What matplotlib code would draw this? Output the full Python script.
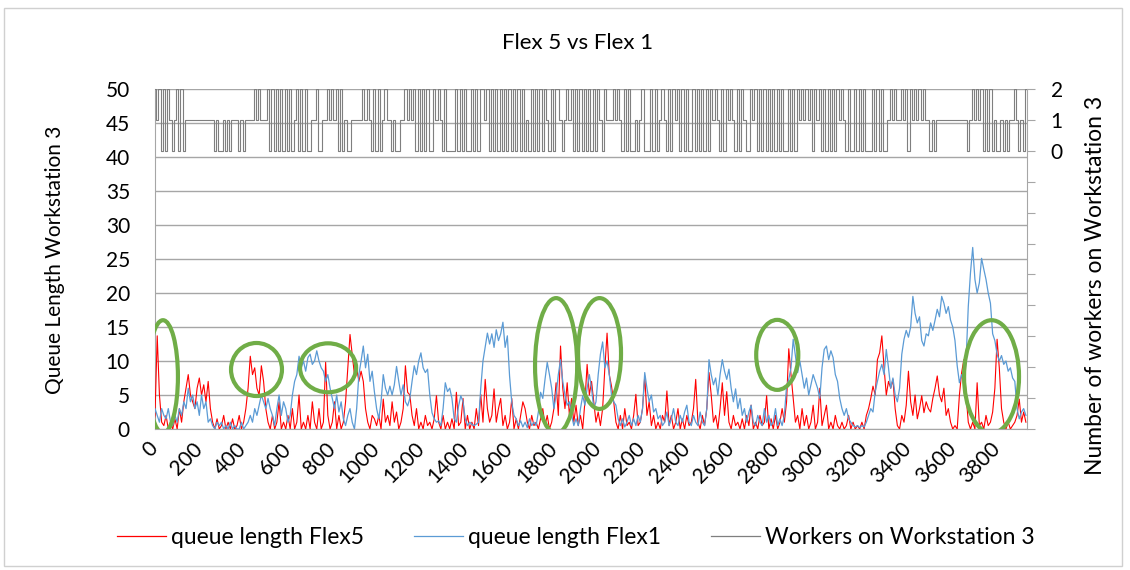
import matplotlib
matplotlib.use("Agg")
import matplotlib.pyplot as plt
from matplotlib.patches import Ellipse, Rectangle
from matplotlib.lines import Line2D
import numpy as np

plt.rcParams['font.family'] = ['Lato', 'DejaVu Sans']

# sampled every 10 time steps, first sample just left of the axis
T0 = -10
STEP = 10

queue_flex5 = [
    0, 2, 13.7, 5, 1, 0.5, 2, 0, 1, 0,
    1.5, 0, 3, 1, 4, 6, 8, 5, 4, 3,
    6, 7.5, 5, 6.5, 4, 7, 3, 1, 0, 1.5,
    0, 0.5, 2, 0, 1, 0, 1.5, 0, 0.5, 2,
    0, 1, 3, 6, 10.7, 8, 9, 6, 5, 9.3,
    7, 3, 1, 0, 2, 0, 1, 4, 0, 1,
    0, 2, 0, 3, 0, 1, 5, 0, 1, 0,
    2, 0, 4, 1, 0, 3, 0, 1, 9.8, 2,
    0, 1, 4, 0, 2, 0, 1, 4, 9, 13.9,
    11, 8, 9, 7, 8.5, 7, 3, 1, 0, 2,
    1.5, 0.5, 2, 0, 4.4, 1, 2, 0.5, 4, 1,
    2.5, 0, 1, 3, 9.3, 5.4, 5, 2, 0.5, 3,
    0, 1, 0, 2, 0.5, 1, 0, 1.5, 4.9, 1,
    0, 2, 0, 1, 0, 1.5, 0, 5.4, 0.5, 1,
    4.5, 0, 2, 0, 1, 0, 3, 0.5, 5.1, 1,
    7.3, 3, 1, 2, 5.9, 1, 3, 4.5, 0.5, 2,
    0, 1, 4.5, 0, 1.5, 0, 2, 4, 3, 1,
    0, 2, 0.5, 1, 0, 1.5, 3, 0.5, 2, 0,
    1, 3, 6.8, 2, 12.2, 6, 3, 6.8, 2, 4.5,
    1, 3.5, 0.5, 2, 0, 4, 9.5, 5, 7, 4,
    1, 2.5, 0.5, 3, 9, 14.1, 8, 6.3, 4, 1,
    0, 2, 0, 3, 0.5, 1, 0, 2, 5.1, 0.5,
    1, 3, 7.8, 2, 4, 0.5, 2, 0, 1, 0,
    2, 1, 5.6, 0.5, 2, 0, 1, 3, 0, 1.5,
    0, 2, 0.5, 1, 3, 7.3, 1, 0, 2, 0.5,
    3, 8.3, 5, 1, 2, 0, 3, 6.8, 2, 5.5,
    1, 0, 2, 0.5, 1, 0, 1.5, 0, 2, 0.5,
    3.5, 0, 1, 0, 2, 0.5, 1, 4.9, 0, 1.5,
    0, 2, 0, 1, 3, 1, 4, 11.8, 8, 4.5,
    1, 2, 0, 3, 0.5, 2, 0, 1, 3.5, 0,
    1, 6, 0.5, 2, 3.5, 0, 1, 0, 2, 0.5,
    0, 1, 0, 0.5, 2, 0, 1, 0, 0.5, 0,
    1, 0, 2, 3, 4.5, 6.3, 5, 10.2, 11.2, 13.7,
    9, 5, 7, 6, 7.3, 3, 0.5, 0, 2, 1,
    3.5, 8.5, 4, 2, 5, 1.5, 3, 4.9, 2.4, 4,
    3, 2.5, 4.5, 6, 7.8, 5, 4, 6, 2, 3,
    1, 0, 0.5, 0, 5, 8.3, 10.2, 5, 1, 0,
    1, 0, 6.8, 0.5, 1, 0, 2, 0.5, 1, 2.5,
    6, 13.2, 9, 3, 1, 0, 1, 0, 0.5, 1,
    2, 4.4, 1, 2.5, 1,
]

queue_flex1 = [
    0, 3, 2, 1, 3, 2, 1.5, 3, 1, 0.5,
    2, 1, 3, 2, 4, 3, 6, 4, 5, 3,
    4, 2, 5, 3, 4, 1, 1.5, 0.5, 0, 1,
    0.5, 1, 0, 0.5, 0, 1, 0, 0.5, 0, 0,
    1, 0, 0.5, 1, 2, 1, 3, 2, 3.5, 5,
    4, 3, 4.5, 3, 2, 0.5, 3, 5, 2, 4,
    3, 1, 2, 5, 7, 8, 10.7, 9, 10, 8.5,
    10.5, 11, 9.5, 10, 11.5, 10, 9, 8.5, 7, 8,
    6, 4.5, 3, 5, 2.5, 4, 1.5, 0.5, 2, 3,
    1, 0, 3, 8, 10, 12.2, 9, 11, 7, 8.5,
    5.5, 3, 1.5, 4, 8, 6, 5, 6.3, 5, 6.5,
    9.2, 7, 5, 6.5, 4, 3.4, 4.5, 7, 9.3, 8,
    10, 11.2, 9, 8.3, 8.8, 5, 2.4, 1.5, 1, 1.2,
    0.5, 3, 6.8, 5.5, 6, 4.5, 1.5, 1, 3.4, 4.9,
    4, 1.5, 0.5, 1, 0.7, 0.5, 0.7, 1, 6, 10,
    12, 14.1, 12.5, 14, 12, 14.6, 13, 14, 15.7, 12,
    13.7, 7.8, 3.9, 2, 1.5, 0.5, 1.2, 0.3, 1, 0.2,
    1.5, 0.5, 1, 0.5, 2.5, 5.4, 4.5, 7.3, 9.8, 8,
    6, 3, 5, 8, 10.2, 7, 5, 3.5, 4, 2,
    0.5, 1.5, 0.5, 3, 4.9, 3.5, 6, 8, 6, 3,
    4, 8, 11, 12.8, 9, 10, 8, 5, 4, 3.5,
    1.5, 0.5, 1.5, 0.3, 1, 2, 0.5, 1.5, 0.5, 2,
    1, 3, 8.3, 6, 4, 5, 2.5, 3, 1.5, 2,
    0.5, 1, 2.5, 0.5, 1.5, 3, 1, 0.5, 2, 1,
    2.5, 3.5, 1, 0.5, 2, 1, 0.5, 2.5, 1, 0.5,
    3, 10.2, 8, 6.5, 7.5, 5, 8, 10.2, 8.5, 7.3,
    8.8, 6, 4, 5.9, 3, 4.5, 2, 3, 1, 2.5,
    3.5, 1, 0.5, 2, 1, 0.5, 3, 1, 2, 0.5,
    1, 3, 0.5, 1.5, 0.5, 2, 6.3, 7.3, 9, 13.2,
    10.7, 8.3, 10, 8, 6, 7.5, 5, 6.5, 8, 7,
    6, 4.5, 9, 11.7, 12.2, 10.2, 11.5, 10.5, 8, 7,
    4.5, 3, 2, 3, 1.5, 1, 0.5, 0.3, 0.5, 0.2,
    0.5, 0.3, 1, 2, 3, 2.5, 5.5, 7, 8.5, 9.5,
    8, 11.7, 9, 6, 7.5, 5, 4, 6, 11, 13.2,
    14.5, 13.5, 15, 19.5, 17, 15.6, 16.5, 13, 12.2, 14,
    13.7, 15.6, 14.5, 16, 17.6, 16.5, 19.5, 18.5, 17, 18,
    16, 15, 13, 9.3, 6.8, 8, 7, 10, 18, 23,
    26.7, 22, 20, 21.5, 25.1, 23.5, 22, 20, 18.5, 14,
    13, 11, 10, 10.8, 9.5, 10, 8.5, 9, 7.5, 7,
    3, 1.5, 2.5, 3, 2,
]

# workers on workstation 3 (0, 1 or 2), one digit per sample
workers_rows = [
    "12120202101202011111111111110100101011101011112121",
    "11202020202020120202001120011212120201001111121210",
    "20201211010011212120202020021210200002020200202022",
    "12020202020202020201020202021020221012120202020202",
    "02102111212102020010120002020121020212020200202020",
    "20212102021210202100212020202020202002020212121202",
    "12020202021210200202020002020200121211212021212121",
    "101011111111111111012121202020100101011210102",
]
workers = [int(c) for c in "".join(workers_rows)]

x_ticks = list(range(0, 3801, 200))
left_ticks = list(range(0, 51, 5))
right_ticks = list(range(-9, 3))
right_labels = ["", "", "", "", "", "", "", "", "", "0", "1", "2"]

# green highlight ellipses: (centre t, centre queue, width t, height queue)
highlights = [
    (36, 7.7, 135, 16.6),
    (458, 8.75, 230, 7.8),
    (781, 9.0, 253, 7.2),
    (1810, 9.3, 190, 19.9),
    (2006, 11.1, 194, 16.3),
    (2808, 10.9, 190, 10.3),
    (3775, 7.7, 248, 16.6),
]

RED = "#FF0000"
BLUE = "#5B9BD5"
GREY = "#7F7F7F"
GREEN = "#70AD47"
AXIS = "#A6A6A6"
FS = 15

t5 = T0 + STEP * np.arange(len(queue_flex5))
t1 = T0 + STEP * np.arange(len(queue_flex1))
tw = T0 + STEP * np.arange(len(workers))

fig = plt.figure(figsize=(11.3, 5.7), dpi=100)
fig.patches.append(Rectangle((0.0035, 0.007), 0.9895, 0.979, transform=fig.transFigure,
                             fill=False, edgecolor="#D0D0D0", linewidth=1))

ax = fig.add_axes([155 / 1130, 1 - 429 / 570, 872 / 1130, 340 / 570])
ax.plot(t5, queue_flex5, color=RED, lw=0.8, zorder=3)
ax.plot(t1, queue_flex1, color=BLUE, lw=0.9, zorder=4)
for cx, cy, w, h in highlights:
    ax.add_patch(Ellipse((cx, cy), w, h, fill=False, edgecolor=GREEN, lw=3, zorder=6))

ax.set_xlim(0, 3935)
ax.set_ylim(0, 50)
ax.set_yticks(left_ticks)
ax.set_xticks(x_ticks)
ax.set_xticklabels([str(v) for v in x_ticks], rotation=45, ha="right", va="center",
                   rotation_mode="anchor")
ax.tick_params(axis="y", length=0, labelsize=FS, pad=18)
ax.tick_params(axis="x", length=0, labelsize=FS, pad=12)
ax.grid(axis="y", color=AXIS, lw=1.0)
ax.set_axisbelow(True)
for s in ["top", "right"]:
    ax.spines[s].set_visible(False)
for s in ["left", "bottom"]:
    ax.spines[s].set_color(AXIS)

ax2 = ax.twinx()
ax2.plot(tw, workers, color=GREY, lw=0.8, drawstyle="steps-mid", zorder=2)
ax2.set_ylim(-9, 2)
ax2.set_yticks(right_ticks)
ax2.set_yticklabels(right_labels)
ax2.tick_params(axis="y", direction="out", length=6, color=AXIS, labelsize=FS, pad=11)
for s in ["top", "left", "bottom"]:
    ax2.spines[s].set_visible(False)
ax2.spines["right"].set_color(AXIS)

fig.text(0.5115, 0.9246, "Flex 5 vs Flex 1", ha="center", va="center", fontsize=16)
fig.text(55 / 1130, 1 - 260 / 570, "Queue Length Workstation 3", rotation=90,
         ha="center", va="center", fontsize=FS)
fig.text(1095 / 1130, 1 - 285 / 570, "Number of workers on Workstation 3", rotation=90,
         ha="center", va="center", fontsize=16.5)

handles = [Line2D([], [], color=RED, lw=0.9), Line2D([], [], color=BLUE, lw=0.9),
           Line2D([], [], color=GREY, lw=0.9)]
fig.legend(handles, ["queue length Flex5", "queue length Flex1", "Workers on Workstation 3"],
           loc="center", bbox_to_anchor=(576 / 1130, 1 - 538 / 570), ncol=3, frameon=False,
           fontsize=16.5, handlelength=2.14, handletextpad=0.22, columnspacing=2.18)

fig.savefig("out.png", dpi=100)
